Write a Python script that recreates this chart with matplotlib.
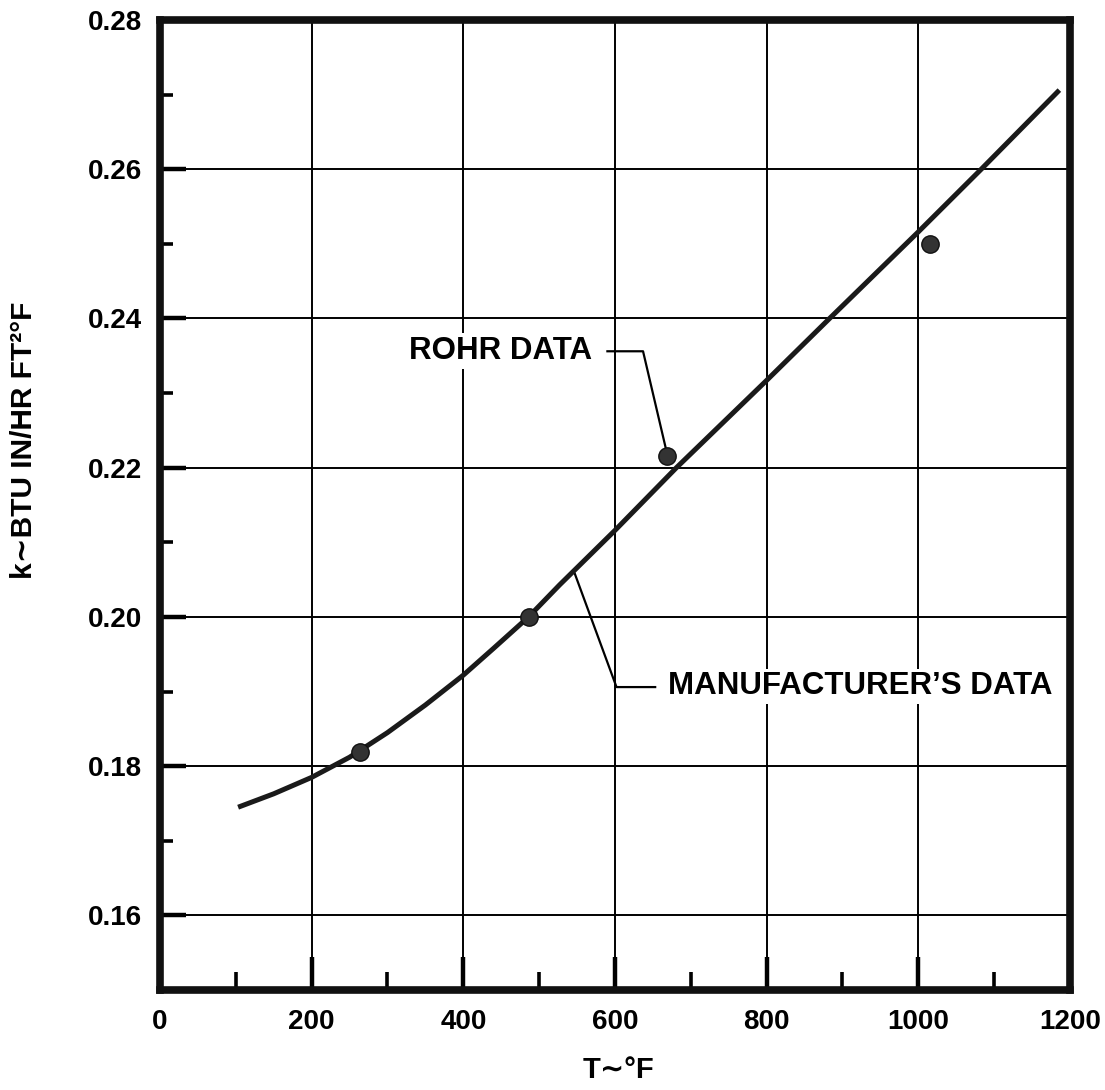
import matplotlib.pyplot as plt
from matplotlib.ticker import MultipleLocator

plt.rcParams['font.family'] = ['Liberation Sans', 'DejaVu Sans']
plt.rcParams['font.weight'] = 'bold'

# manufacturer's curve
temp_curve = [103, 150, 200, 250, 300, 350, 400, 440, 486, 527, 600, 681,
              800, 883, 1000, 1083, 1186]
k_curve = [0.1745, 0.1763, 0.1785, 0.1812, 0.1845, 0.1882, 0.1922, 0.1958,
           0.2000, 0.2043, 0.2116, 0.2200, 0.2317, 0.2400, 0.2516, 0.2600, 0.2706]

# Rohr test points
temp_rohr = [264, 486, 669, 1015]
k_rohr = [0.1819, 0.2000, 0.2215, 0.2500]

x_ticks = [0, 200, 400, 600, 800, 1000, 1200]
y_ticks = [0.16, 0.18, 0.20, 0.22, 0.24, 0.26, 0.28]

fig = plt.figure(figsize=(11.05, 10.90), dpi=100)
ax = fig.add_axes([0.1448, 0.0917, 0.8235, 0.89])

ax.plot(temp_curve, k_curve, color='#1a1a1a', lw=3.6, solid_capstyle='butt',
        solid_joinstyle='round', zorder=4)
ax.plot(temp_rohr, k_rohr, 'o', color='#333333', mec='#111111', ms=12.5, zorder=5)

ax.set_xlim(0, 1200)
ax.set_ylim(0.15, 0.28)
ax.set_xticks(x_ticks)
ax.set_yticks(y_ticks)
ax.set_yticklabels(['%.2f' % v for v in y_ticks])
ax.xaxis.set_minor_locator(MultipleLocator(100))
ax.yaxis.set_minor_locator(MultipleLocator(0.01))

ax.grid(True, which='major', color='black', lw=1.4)
ax.set_axisbelow(True)

ax.tick_params(axis='x', which='major', direction='in', length=24, width=3.2,
               labelsize=20, pad=14)
ax.tick_params(axis='x', which='minor', direction='in', length=13, width=2.6)
ax.tick_params(axis='y', which='major', direction='in', length=19, width=3.2,
               labelsize=20, pad=13)
ax.tick_params(axis='y', which='minor', direction='in', length=9.5, width=2.6)
ax.tick_params(which='both', top=False, right=False)

for s in ax.spines.values():
    s.set_linewidth(5.5)
    s.set_color('#111111')
    s.set_capstyle('projecting')

# annotations
box = dict(facecolor='white', edgecolor='none', pad=2)
ax.text(570, 0.2356, 'ROHR DATA', ha='right', va='center', fontsize=22.5,
        fontweight='bold', bbox=box, zorder=3)
ax.plot([590, 637, 667], [0.2356, 0.2356, 0.2226], color='black', lw=1.6, zorder=3)

ax.text(670, 0.1907, "MANUFACTURER’S DATA", ha='left', va='center', fontsize=22.5,
        fontweight='bold', bbox=box, zorder=3)
ax.plot([547, 602, 653], [0.2058, 0.1906, 0.1906], color='black', lw=1.6, zorder=3)

tilde = dict(family='DejaVu Sans', weight='bold')
fig.text(0.560, 0.0183, 'T∼°F', ha='center', va='center', fontsize=21,
         fontweight='bold')
fig.text(0.0217, 0.5963, 'k∼BTU IN/HR FT²°F', rotation=90, ha='center', va='center',
         fontsize=21.5, fontweight='bold')

fig.savefig('out.png', dpi=100, facecolor='white')
